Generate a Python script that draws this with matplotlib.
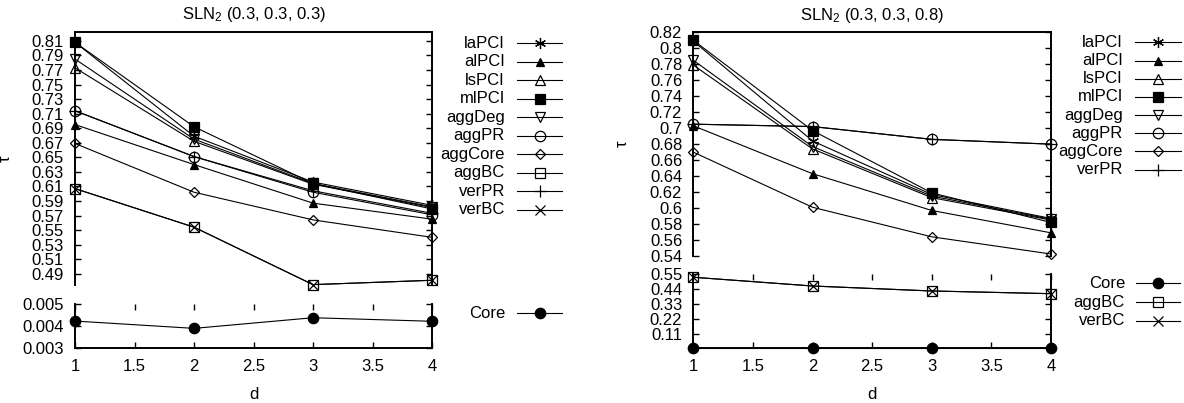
import matplotlib
matplotlib.use('Agg')
import matplotlib.pyplot as plt
from matplotlib.lines import Line2D
from matplotlib.ticker import FuncFormatter

plt.rcParams['font.family'] = ['Liberation Sans', 'DejaVu Sans']
plt.rcParams['mathtext.default'] = 'regular'

d = [1, 2, 3, 4]

# SLN2 (0.3, 0.3, 0.3)
left_laPCI = [0.808, 0.679, 0.616, 0.584]
left_alPCI = [0.695, 0.640, 0.587, 0.565]
left_lsPCI = [0.773, 0.672, 0.613, 0.581]
left_mlPCI = [0.808, 0.692, 0.614, 0.579]
left_aggDeg = [0.785, 0.675, 0.614, 0.582]
left_aggPR = [0.714, 0.651, 0.602, 0.571]
left_aggCore = [0.669, 0.602, 0.564, 0.540]
left_aggBC = [0.607, 0.554, 0.475, 0.481]
left_verPR = [0.714, 0.651, 0.604, 0.573]
left_verBC = [0.607, 0.554, 0.475, 0.481]
left_Core = [0.00423, 0.00390, 0.00438, 0.00422]

# SLN2 (0.3, 0.3, 0.8)
right_laPCI = [0.809, 0.684, 0.617, 0.587]
right_alPCI = [0.703, 0.643, 0.597, 0.569]
right_lsPCI = [0.779, 0.674, 0.613, 0.585]
right_mlPCI = [0.810, 0.697, 0.619, 0.582]
right_aggDeg = [0.785, 0.677, 0.615, 0.586]
right_aggPR = [0.705, 0.702, 0.686, 0.680]
right_aggCore = [0.670, 0.601, 0.564, 0.5425]
right_verPR = [0.705, 0.702, 0.686, 0.680]
right_Core = [0, 0, 0, 0]
right_aggBC = [0.528, 0.463, 0.426, 0.406]
right_verBC = [0.528, 0.463, 0.426, 0.406]

left_yticks = [0.49, 0.51, 0.53, 0.55, 0.57, 0.59, 0.61, 0.63, 0.65, 0.67,
               0.69, 0.71, 0.73, 0.75, 0.77, 0.79, 0.81]
right_yticks = [0.54, 0.56, 0.58, 0.6, 0.62, 0.64, 0.66, 0.68, 0.7, 0.72,
                0.74, 0.76, 0.78, 0.8, 0.82]
left_core_ticks = [0.003, 0.004, 0.005]
right_low_ticks = [0.11, 0.22, 0.33, 0.44, 0.55]
x_ticks = [1, 1.5, 2, 2.5, 3, 3.5, 4]

# marker styles (gnuplot-like)
ST = {
    'laPCI': dict(marker=(6, 2, 0), ms=8, mfc='none'),
    'alPCI': dict(marker='^', ms=6, mfc='k'),
    'lsPCI': dict(marker='^', ms=7, mfc='none'),
    'mlPCI': dict(marker='s', ms=7.5, mfc='k'),
    'aggDeg': dict(marker='v', ms=7, mfc='none'),
    'aggPR': dict(marker='o', ms=7.5, mfc='none'),
    'aggCore': dict(marker='D', ms=5.5, mfc='none'),
    'aggBC': dict(marker='s', ms=7, mfc='none'),
    'verPR': dict(marker='+', ms=9, mfc='none'),
    'verBC': dict(marker='x', ms=7, mfc='none'),
    'Core': dict(marker='o', ms=7.5, mfc='k'),
}

W, H = 1184, 403
fig = plt.figure(figsize=(W / 100, H / 100), dpi=100)


def px_box(x0, y0, x1, y1):
    return [x0 / W, 1 - y1 / H, (x1 - x0) / W, (y1 - y0) / H]


def fmt(v, pos):
    return f"{round(v, 4):g}"


def setup(ax, upper, yticks, ylim):
    ax.set_xlim(1, 4)
    ax.set_ylim(*ylim)
    ax.set_yticks(yticks)
    ax.yaxis.set_major_formatter(FuncFormatter(fmt))
    ax.tick_params(direction='in', length=4, width=1, labelsize=12,
                   left=True, right=True, pad=8)
    for s in ax.spines.values():
        s.set_linewidth(1.4)
    if upper:
        ax.spines['bottom'].set_visible(False)
        ax.tick_params(axis='x', bottom=False, labelbottom=False)
    else:
        ax.spines['top'].set_visible(False)
        ax.set_xticks(x_ticks)
        ax.xaxis.set_major_formatter(FuncFormatter(fmt))
        ax.tick_params(axis='x', top=True, pad=8)


def plot(ax, y, name):
    ax.plot(d, y, color='k', lw=0.8, mec='k', mew=0.9, clip_on=False,
            **ST[name])


def legend(names, x_right, x0, x1, y0, step):
    for i, name in enumerate(names):
        y = 1 - (y0 + i * step) / H
        fig.text(x_right / W, y, name, ha='right', va='center', fontsize=12)
        fig.add_artist(Line2D([x0 / W, x1 / W], [y, y], transform=fig.transFigure,
                              color='k', lw=0.8))
        fig.add_artist(Line2D([(x0 + x1) / 2 / W], [y], transform=fig.transFigure,
                              color='k', mec='k', mew=0.9, linestyle='none',
                              **ST[name]))


# left panel
axLt = fig.add_axes(px_box(75, 32, 432, 285))
axLb = fig.add_axes(px_box(75, 304, 432, 348.3))
setup(axLt, True, left_yticks, (0.4745, 0.8222))
setup(axLb, False, left_core_ticks, (0.003, 0.005))
left_top = [('laPCI', left_laPCI), ('alPCI', left_alPCI), ('lsPCI', left_lsPCI),
            ('mlPCI', left_mlPCI), ('aggDeg', left_aggDeg), ('aggPR', left_aggPR),
            ('aggCore', left_aggCore), ('aggBC', left_aggBC), ('verPR', left_verPR),
            ('verBC', left_verBC)]
for name, y in left_top:
    plot(axLt, y, name)
plot(axLb, left_Core, 'Core')
axLt.set_title('SLN$_2$ (0.3, 0.3, 0.3)', fontsize=12, pad=9)
axLt.set_ylabel('τ', fontsize=12)
axLt.yaxis.set_label_coords(-62 / 357, 0.5)
axLb.set_xlabel('d', fontsize=12, labelpad=9)
legend([n for n, _ in left_top], 505, 517, 562, 43.3, 18.5)
legend(['Core'], 505, 517, 562, 313.3, 18.5)

# right panel
axRt = fig.add_axes(px_box(693.3, 32.3, 1051, 256))
axRb = fig.add_axes(px_box(693.3, 274.3, 1051, 348.3))
setup(axRt, True, right_yticks, (0.54, 0.82))
setup(axRb, False, right_low_ticks, (0, 0.55))
right_top = [('laPCI', right_laPCI), ('alPCI', right_alPCI), ('lsPCI', right_lsPCI),
             ('mlPCI', right_mlPCI), ('aggDeg', right_aggDeg), ('aggPR', right_aggPR),
             ('aggCore', right_aggCore), ('verPR', right_verPR)]
for name, y in right_top:
    plot(axRt, y, name)
right_low = [('Core', right_Core), ('aggBC', right_aggBC), ('verBC', right_verBC)]
for name, y in right_low:
    plot(axRb, y, name)
axRt.set_title('SLN$_2$ (0.3, 0.3, 0.8)', fontsize=12, pad=9)
axRt.set_ylabel('τ', fontsize=12)
axRt.yaxis.set_label_coords(-64 / 357.7, 0.5)
axRb.set_xlabel('d', fontsize=12, labelpad=9)
legend([n for n, _ in right_top], 1123, 1135, 1181, 42.3, 18.2)
legend([n for n, _ in right_low], 1125, 1136, 1180, 283.3, 18.7)

fig.savefig('out.png', dpi=100)
